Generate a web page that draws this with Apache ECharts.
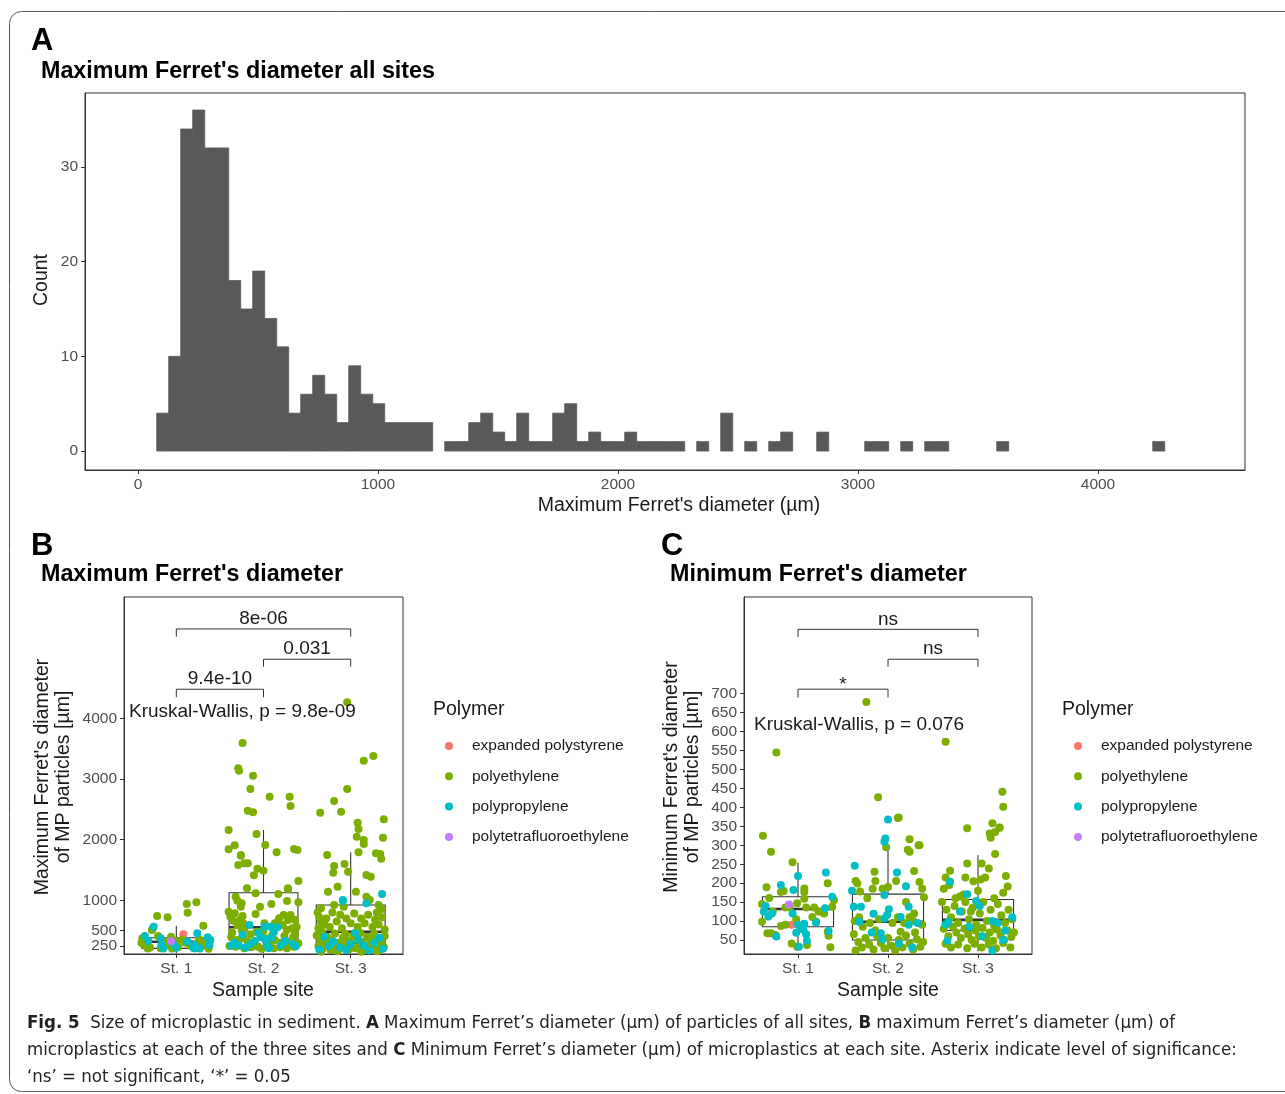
<!DOCTYPE html>
<html><head><meta charset="utf-8">
<script src="https://cdn.jsdelivr.net/npm/echarts@6/dist/echarts.min.js"></script>
<style>html,body{margin:0;padding:0;background:#fff}#c{width:1285px;height:1094px}</style>
</head><body><div id="c"></div>
<script>
const FONT = '"Liberation Sans", Arial, Helvetica, sans-serif';
const CAPFONT = '"Liberation Sans Narrow", "DejaVu Sans Condensed", "Liberation Sans", sans-serif';

// ---------- Panel A: histogram ----------
const histBinStart = 78;
const histBinWidth = 50;
const histCounts = [4,10,34,36,32,32,18,15,19,14,11,4,6,8,6,3,9,6,5,3,3,3,3,0,1,1,3,4,2,1,4,1,1,4,5,1,2,1,1,2,1,1,1,1,0,1,0,4,0,1,0,1,2,0,0,2,0,0,0,1,1,0,1,0,1,1,0,0,0,0,1,0,0,0,0,0,0,0,0,0,0,0,0,1];
const histXTicks = [0,1000,2000,3000,4000];
const histYTicks = [0,10,20,30];

// ---------- Panels B & C ----------
const sites = ['St. 1','St. 2','St. 3'];
const siteTicks = [1,2,3];
const polymers = ['expanded polystyrene','polyethylene','polypropylene','polytetrafluoroethylene'];
const polymerColors = ['#F8766D','#7CAE00','#00BFC4','#C77CFF'];

// box stats: [site, lower whisker, q1, median, q3, upper whisker]
const maxBox = [[1,130,207,317,383,580],[2,130,345,554,1125,2158],[3,130,290,482,922,1790]];
const minBox = [[1,25,85,132,164,254],[2,18,50,98,171,296],[3,20,75,103,157,274]];
const maxYTicks = [500,1000,2000,3000,4000];
const maxYTicksLow = [250];
const minYTicks = [50,100,150,200,250,300,350,400,450,500,550,600,650,700];

// brackets: [from site, to site, bar value, tip value]
const maxBrackets = [[1,3,5473,5346],[2,3,4974,4851],[1,2,4479,4347]];
const maxBracketLabels = ['8e-06','0.031','9.4e-10'];
const minBrackets = [[1,3,870,850],[2,3,791,771],[1,2,712,690]];
const minBracketLabels = ['ns','ns','*'];
const maxKW = [0.457, 4105]; const maxKWLabel = 'Kruskal-Wallis, p = 9.8e-09';
const minKW = [0.511, 617];  const minKWLabel = 'Kruskal-Wallis, p = 0.076';

// points: [site, jitter, value]
const maxEPS = [[1,0.08,438]];
const maxPTFE = [[1,-0.06,328]];
const maxPE = [
[1,-0.22,740],[1,-0.10,719],[1,0.12,938],[1,0.23,966],[1,0.13,795],[1,0.31,580],[1,-0.28,510],[1,-0.27,537],[1,-0.39,373],[1,-0.37,262],[1,-0.21,411],[1,-0.06,399],[1,-0.10,262],[1,0.02,230],[1,0.10,300],[1,0.22,210],[1,0.28,270],[1,0.37,200],[1,-0.18,210],[1,-0.30,220],[1,0.0,330],[1,0.16,250],[1,0.33,330],[1,-0.40,300],[1,-0.14,330],[1,0.07,350],[1,0.26,360],[1,0.36,240],[1,-0.33,205],[1,-0.05,205],
[2,-0.24,3593],[2,-0.29,3176],[2,-0.28,3137],[2,-0.12,3054],[2,-0.15,2835],[2,0.07,2708],[2,0.30,2708],[2,0.31,2554],[2,-0.18,2477],[2,-0.12,2450],[2,-0.40,2158],[2,-0.08,2093],[2,0.02,1911],[2,-0.40,1840],[2,-0.33,1906],[2,-0.26,1735],[2,-0.29,1581],[2,-0.22,1609],[2,-0.18,1609],[2,-0.07,1521],[2,0.0,1488],[2,-0.11,1412],[2,0.35,1845],[2,0.39,1829],[2,0.40,1318],[2,-0.19,1197],[2,-0.09,1115],[2,0.28,1197],[2,0.17,1103],[2,0.40,966],[2,-0.32,1059],[2,-0.30,993],[2,0.09,938],[2,-0.40,811],[2,-0.33,785],[2,-0.26,894],[2,-0.09,773],[2,0.23,757],[2,0.31,757],[2,0.36,674],[2,0.01,620],[2,0.17,663],[2,-0.27,674],[2,-0.23,620],[2,0.33,537],[2,0.15,1791],[2,-0.26,1746],
[2,0.28,1181],[2,-0.25,950],[2,-0.04,894],[2,0.27,988],[2,-0.38,729],[2,-0.35,663],[2,-0.24,740],[2,0.18,702],[2,0.28,674],[2,0.13,620],[2,0.22,592],[2,-0.30,592],[2,-0.25,510],[2,-0.22,521],[2,-0.08,481],[2,0.0,498],[2,0.27,510],[2,0.36,444],[2,-0.37,399],[2,-0.30,345],[2,-0.23,373],[2,-0.18,317],[2,-0.12,290],[2,-0.03,399],[2,0.03,373],[2,0.07,300],[2,0.13,345],[2,0.20,290],[2,0.28,317],[2,0.34,389],[2,0.40,290],[2,-0.39,245],[2,-0.32,234],[2,-0.22,208],[2,-0.14,224],[2,-0.06,234],[2,-0.02,201],[2,0.05,245],[2,0.12,208],[2,0.19,224],[2,0.27,208],[2,0.35,234],[2,0.38,560],[2,-0.36,470],[2,0.10,430],[2,-0.15,440],[2,0.24,410],
[3,-0.04,4265],[3,0.15,3302],[3,0.26,3379],[3,-0.04,2835],[3,-0.19,2637],[3,-0.35,2444],[3,-0.11,2461],[3,0.08,2279],[3,0.09,2175],[3,0.38,2335],[3,0.07,2048],[3,0.15,1994],[3,0.15,1928],[3,0.37,2032],[3,-0.27,1746],[3,0.09,1791],[3,0.29,1775],[3,0.34,1763],[3,0.35,1685],[3,-0.19,1565],[3,-0.20,1455],[3,-0.07,1598],[3,-0.03,1471],[3,0.18,1417],[3,0.23,1389],[3,-0.15,1224],[3,0.06,1141],[3,-0.26,1141],[3,0.18,1059],[3,0.22,1004],[3,0.32,922],[3,0.35,851],[3,-0.34,867],[3,-0.19,922],[3,-0.08,894],
[3,-0.38,800],[3,-0.36,720],[3,-0.34,650],[3,-0.30,600],[3,-0.37,540],[3,-0.33,480],[3,-0.28,700],[3,-0.24,560],[3,-0.21,800],[3,-0.16,650],[3,-0.12,760],[3,-0.10,540],[3,-0.05,700],[3,0.0,620],[3,0.04,780],[3,0.08,560],[3,0.12,700],[3,0.16,620],[3,0.20,760],[3,0.25,560],[3,0.28,680],[3,0.32,600],[3,0.36,720],[3,0.39,520],[3,0.30,800],
[3,-0.39,420],[3,-0.35,360],[3,-0.31,300],[3,-0.27,400],[3,-0.22,340],[3,-0.18,450],[3,-0.14,300],[3,-0.09,380],[3,-0.06,440],[3,-0.02,330],[3,0.03,420],[3,0.07,360],[3,0.11,460],[3,0.14,310],[3,0.19,400],[3,0.23,350],[3,0.27,450],[3,0.31,380],[3,0.35,320],[3,0.39,410],
[3,-0.37,240],[3,-0.32,200],[3,-0.27,260],[3,-0.23,180],[3,-0.19,230],[3,-0.13,200],[3,-0.08,260],[3,-0.03,190],[3,0.01,240],[3,0.05,210],[3,0.10,260],[3,0.15,190],[3,0.20,240],[3,0.24,200],[3,0.29,250],[3,0.34,190],[3,0.38,230],[3,-0.15,160],[3,0.12,150],[3,0.30,160],[3,-0.34,150]
];
const maxPP = [
[1,-0.26,564],[1,-0.36,411],[1,-0.18,373],[1,-0.17,262],[1,-0.04,290],[1,0.13,317],[1,0.21,262],[1,0.24,455],[1,0.36,389],[1,0.39,345],[1,0.38,262],[1,-0.15,205],[1,0.0,215],[1,0.20,210],[1,0.27,205],[1,-0.32,330],
[2,-0.16,592],[2,0.01,564],[2,0.08,564],[2,0.16,554],[2,-0.37,254],[2,-0.28,254],[2,-0.15,280],[2,-0.10,330],[2,-0.03,400],[2,0.02,350],[2,0.09,380],[2,0.04,260],[2,0.06,210],[2,0.20,260],[2,0.34,280],[2,0.37,240],[2,-0.20,220],[2,-0.33,300],[2,0.25,330],[2,-0.06,460],[2,0.12,480],[2,-0.24,430],
[3,0.36,1103],[3,-0.09,1004],[3,0.18,950],[3,-0.09,988],[3,-0.30,400],[3,-0.20,320],[3,-0.12,220],[3,0.0,280],[3,0.09,350],[3,0.15,250],[3,0.27,300],[3,0.37,200],[3,-0.36,190],[3,-0.05,180],[3,0.21,170],[3,0.33,380],[3,0.05,460],[3,-0.25,250]
];

const minEPS = [[1,-0.07,90]];
const minPTFE = [[1,-0.10,144]];
const minPE = [
[1,-0.39,325],[1,-0.30,283],[1,-0.06,255],[1,-0.35,189],[1,-0.19,177],[1,-0.16,179],[1,0.07,186],[1,0.07,177],[1,0.33,200],[1,-0.40,145],[1,-0.32,161],[1,-0.28,125],[1,-0.14,136],[1,-0.09,136],[1,-0.01,147],[1,0.07,159],[1,0.09,136],[1,0.18,136],[1,0.23,125],[1,0.29,120],[1,0.38,138],[1,-0.40,98],[1,-0.34,68],[1,-0.30,68],[1,-0.25,63],[1,-0.19,87],[1,-0.14,90],[1,-0.02,105],[1,0.16,111],[1,0.20,98],[1,0.33,72],[1,0.34,61],[1,0.36,31],[1,-0.24,545],[1,-0.01,32],[1,0.10,37],[1,0.40,155],[1,-0.07,41],
[2,-0.11,427],[2,-0.24,678],[2,0.12,373],[2,0.11,372],[2,-0.02,295],[2,0.24,316],[2,0.35,300],[2,0.22,288],[2,0.24,283],[2,0.34,300],[2,-0.15,230],[2,0.29,232],[2,-0.36,206],[2,-0.34,199],[2,-0.14,206],[2,0.09,206],[2,0.35,203],[2,0.38,185],[2,-0.06,185],[2,0.0,190],[2,-0.31,178],[2,-0.23,160],[2,-0.17,185],[2,0.40,163],[2,0.20,150],[2,0.29,120],[2,0.28,100],[2,-0.37,100],[2,-0.32,110],[2,-0.28,85],[2,-0.20,95],[2,-0.10,105],[2,0.05,95],[2,0.11,110],[2,0.18,95],[2,0.24,110],[2,0.38,90],
[2,-0.38,65],[2,-0.33,45],[2,-0.29,30],[2,-0.25,55],[2,-0.21,38],[2,-0.16,25],[2,-0.12,60],[2,-0.08,42],[2,-0.04,28],[2,0.0,55],[2,0.04,35],[2,0.08,22],[2,0.12,50],[2,0.16,30],[2,0.20,62],[2,0.24,40],[2,0.28,25],[2,0.32,52],[2,0.36,32],[2,0.39,45],[2,-0.36,22],[2,-0.14,75],[2,0.14,72],[2,0.30,70],
[3,-0.36,573],[3,0.27,441],[3,0.28,402],[3,0.16,358],[3,0.13,331],[3,0.24,346],[3,0.14,320],[3,0.19,335],[3,0.24,347],[3,0.19,277],[3,-0.12,345],[3,0.04,252],[3,-0.12,252],[3,-0.31,233],[3,0.12,239],[3,0.31,219],[3,0.33,191],[3,-0.36,215],[3,-0.32,195],[3,-0.38,185],[3,-0.14,215],[3,-0.05,205],[3,0.03,210],[3,0.08,215],[3,-0.25,160],[3,-0.20,165],
[3,-0.40,150],[3,-0.35,130],[3,-0.30,110],[3,-0.26,140],[3,-0.22,95],[3,-0.18,125],[3,-0.14,150],[3,-0.10,105],[3,-0.06,135],[3,-0.02,90],[3,0.02,120],[3,0.06,150],[3,0.10,100],[3,0.14,130],[3,0.18,88],[3,0.22,145],[3,0.26,115],[3,0.30,95],[3,0.34,130],[3,0.38,105],
[3,-0.38,80],[3,-0.33,60],[3,-0.28,85],[3,-0.24,70],[3,-0.19,55],[3,-0.15,80],[3,-0.11,65],[3,-0.07,50],[3,-0.03,75],[3,0.01,60],[3,0.05,82],[3,0.09,55],[3,0.13,70],[3,0.17,48],[3,0.21,78],[3,0.25,62],[3,0.29,50],[3,0.33,75],[3,0.37,58],[3,0.40,70],
[3,-0.36,40],[3,-0.30,30],[3,-0.22,38],[3,-0.12,28],[3,-0.04,40],[3,0.04,30],[3,0.12,38],[3,0.20,28],[3,0.28,42],[3,0.36,30],[3,-0.16,170],[3,0.28,175],[3,0.00,180],[3,-0.08,125],[3,0.18,160]
];
const minPP = [
[1,-0.19,195],[1,-0.05,182],[1,0.0,219],[1,0.31,228],[1,0.38,164],[1,-0.36,140],[1,-0.29,120],[1,-0.38,125],[1,-0.06,120],[1,0.0,90],[1,0.04,86],[1,0.07,93],[1,0.06,77],[1,0.09,65],[1,0.10,48],[1,0.20,96],[1,0.34,74],[1,-0.24,59],[1,-0.02,69],[1,0.01,32],[1,0.30,134],[1,-0.33,112],
[2,0.0,368],[2,-0.03,318],[2,-0.04,309],[2,-0.37,246],[2,0.10,228],[2,-0.40,180],[2,0.20,192],[2,-0.04,169],[2,-0.38,138],[2,-0.30,138],[2,0.01,131],[2,0.23,138],[2,-0.16,119],[2,-0.04,107],[2,-0.01,116],[2,0.14,111],[2,0.23,90],[2,-0.08,68],[2,-0.06,52],[2,0.12,41],[2,-0.18,70],[2,0.27,30],[2,-0.32,98],[2,0.33,95],
[3,-0.31,204],[3,-0.12,171],[3,-0.02,153],[3,-0.33,98],[3,-0.36,91],[3,-0.34,48],[3,0.16,100],[3,0.22,95],[3,0.38,110],[3,0.30,75],[3,0.16,22],[3,-0.10,85],[3,0.05,60],[3,0.28,50],[3,0.02,140],[3,-0.20,125]
];

// ---------- helpers ----------
const TXT = '#1a1a1a', TICKTXT = '#4d4d4d', LINE = '#333333';
function xAxisCfg(grid, min, max, ticks, fmt){
  return {gridIndex:grid, type:'value', min:min, max:max, splitLine:{show:false},
    axisLine:{show:true, onZero:false, lineStyle:{color:LINE, width:1}},
    axisTick:{show:true, customValues:ticks, length:4, lineStyle:{color:LINE}},
    axisLabel:{customValues:ticks, formatter:fmt, hideOverlap:false, showMinLabel:true, showMaxLabel:true, color:TICKTXT, fontSize:15.5, fontFamily:FONT, margin:7}};
}
function yAxisCfg(grid, min, max, ticks){
  return {gridIndex:grid, type:'value', position:'left', offset:0, min:min, max:max, splitLine:{show:false},
    axisLine:{show:true, onZero:false, lineStyle:{color:LINE, width:1}},
    axisTick:{show:true, customValues:ticks, length:4, lineStyle:{color:LINE}},
    axisLabel:{customValues:ticks, formatter:v => String(v), hideOverlap:false, showMinLabel:true, showMaxLabel:true, color:TICKTXT, fontSize:15.5, fontFamily:FONT, margin:7}};
}
const siteFmt = v => sites[Math.round(v)-1];

function boxSeries(ax, stats){
  return {type:'custom', xAxisIndex:ax, yAxisIndex:ax, z:2, silent:true, clip:true,
    data: stats,
    renderItem:function(params, api){
      const s=api.value(0), lo=api.value(1), q1=api.value(2), md=api.value(3), q3=api.value(4), hi=api.value(5);
      const hw=0.395;
      const tl=api.coord([s-hw,q3]), br=api.coord([s+hw,q1]);
      const ml=api.coord([s-hw,md]), mr=api.coord([s+hw,md]);
      const a=api.coord([s,q3]), b=api.coord([s,hi]), c=api.coord([s,q1]), d=api.coord([s,lo]);
      const st={stroke:LINE, lineWidth:1.1, fill:null};
      return {type:'group', children:[
        {type:'line', shape:{x1:a[0],y1:a[1],x2:b[0],y2:b[1]}, style:st},
        {type:'line', shape:{x1:c[0],y1:c[1],x2:d[0],y2:d[1]}, style:st},
        {type:'rect', shape:{x:tl[0],y:tl[1],width:br[0]-tl[0],height:br[1]-tl[1]}, style:{stroke:LINE, lineWidth:1.1, fill:'#ffffff'}},
        {type:'line', shape:{x1:ml[0],y1:ml[1],x2:mr[0],y2:mr[1]}, style:{stroke:LINE, lineWidth:2.6}}
      ]};
    }};
}
function bracketSeries(ax, rows, labels){
  return {type:'custom', xAxisIndex:ax, yAxisIndex:ax, z:5, silent:true, clip:false,
    data: rows,
    renderItem:function(params, api){
      const x1=api.value(0), x2=api.value(1), yb=api.value(2), yt=api.value(3);
      const p1=api.coord([x1,yb]), p2=api.coord([x2,yb]), t1=api.coord([x1,yt]), t2=api.coord([x2,yt]);
      const lab=labels[params.dataIndex];
      const off = lab==='*' ? 4 : 10;
      return {type:'group', children:[
        {type:'polyline', shape:{points:[t1,p1,p2,t2]}, style:{stroke:LINE, lineWidth:1, fill:null}},
        {type:'text', x:(p1[0]+p2[0])/2, y:p1[1]-off, style:{text:lab, fill:TXT, fontSize:19, fontFamily:FONT, align:'center', verticalAlign:'middle'}}
      ]};
    }};
}
function kwSeries(ax, pos, label){
  return {type:'custom', xAxisIndex:ax, yAxisIndex:ax, z:5, silent:true, clip:false,
    data:[pos],
    renderItem:function(params, api){
      const p=api.coord([api.value(0), api.value(1)]);
      return {type:'text', x:p[0], y:p[1], style:{text:label, fill:TXT, fontSize:19, fontFamily:FONT, align:'left', verticalAlign:'middle'}};
    }};
}
function pointSeries(ax, arr, idx){
  return {type:'scatter', name:polymers[idx], xAxisIndex:ax, yAxisIndex:ax, z:3,
    symbol:'circle', symbolSize:8, itemStyle:{color:polymerColors[idx], opacity:1},
    emphasis:{disabled:true}, silent:true,
    data: arr.map(p => [p[0]+p[1], p[2]])};
}

const histData = histCounts.map((c,i) => [histBinStart+i*histBinWidth, histBinStart+(i+1)*histBinWidth, c]).filter(r => r[2] > 0);

const legendCommon = {data:polymers, orient:'vertical', top:733, itemWidth:36, itemHeight:8, itemGap:14.3, icon:'circle', selectedMode:false,
     textStyle:{fontSize:15.5, color:TXT, fontFamily:FONT, lineHeight:16}};

const option = {
  animation:false,
  backgroundColor:'#ffffff',
  grid:[
    {left:85, top:93, width:1160, height:377, show:true, borderColor:LINE, borderWidth:1, backgroundColor:'transparent'},
    {left:124, top:597, width:279, height:357, show:true, borderColor:LINE, borderWidth:1, backgroundColor:'transparent'},
    {left:744, top:597, width:288, height:357, show:true, borderColor:LINE, borderWidth:1, backgroundColor:'transparent'}
  ],
  xAxis:[
    xAxisCfg(0, -220.8, 4612.5, histXTicks, v => String(v)),
    xAxisCfg(1, 0.4, 3.6, siteTicks, siteFmt),
    xAxisCfg(2, 0.4, 3.6, siteTicks, siteFmt)
  ],
  yAxis:[
    yAxisCfg(0, -2, 37.8, histYTicks),
    yAxisCfg(1, 114, 6000, maxYTicks),
    yAxisCfg(2, 13.05, 955.3, minYTicks),
    yAxisCfg(1, 114, 6000, maxYTicksLow)
  ],
  legend:[
    Object.assign({left:440}, legendCommon),
    Object.assign({left:1069}, legendCommon)
  ],
  series:[
    {type:'custom', xAxisIndex:0, yAxisIndex:0, silent:true, clip:true, data:histData,
     renderItem:function(params, api){
       const a=api.coord([api.value(0), api.value(2)]), b=api.coord([api.value(1), 0]);
       return {type:'rect', shape:{x:a[0], y:a[1], width:b[0]-a[0], height:b[1]-a[1]}, style:{fill:'#595959', stroke:'#595959', lineWidth:0.8}};
     }},
    boxSeries(1, maxBox),
    pointSeries(1, maxEPS, 0), pointSeries(1, maxPE, 1), pointSeries(1, maxPP, 2), pointSeries(1, maxPTFE, 3),
    bracketSeries(1, maxBrackets, maxBracketLabels),
    kwSeries(1, maxKW, maxKWLabel),
    boxSeries(2, minBox),
    pointSeries(2, minEPS, 0), pointSeries(2, minPE, 1), pointSeries(2, minPP, 2), pointSeries(2, minPTFE, 3),
    bracketSeries(2, minBrackets, minBracketLabels),
    kwSeries(2, minKW, minKWLabel)
  ],
  graphic:[
    {type:'rect', shape:{x:9.5, y:11.5, width:1400, height:1080, r:12}, style:{fill:null, stroke:'#5a5a5a', lineWidth:1}, silent:true, z:-10},
    {type:'text', x:31, y:41, style:{text:'A', fontSize:31, fontWeight:'bold', fontFamily:FONT, fill:'#000', align:'left', verticalAlign:'middle'}},
    {type:'text', x:41, y:72, style:{text:"Maximum Ferret's diameter all sites", fontSize:23.3, fontWeight:'bold', fontFamily:FONT, fill:'#000', align:'left', verticalAlign:'middle'}},
    {type:'text', x:679, y:506, style:{text:"Maximum Ferret's diameter (µm)", fontSize:19.5, fontFamily:FONT, fill:TXT, align:'center', verticalAlign:'middle'}},
    {type:'text', x:42, y:280, rotation:Math.PI/2, style:{text:'Count', fontSize:19.5, fontFamily:FONT, fill:TXT, align:'center', verticalAlign:'middle'}},

    {type:'text', x:31, y:546, style:{text:'B', fontSize:31, fontWeight:'bold', fontFamily:FONT, fill:'#000', align:'left', verticalAlign:'middle'}},
    {type:'text', x:41, y:575, style:{text:"Maximum Ferret's diameter", fontSize:23.3, fontWeight:'bold', fontFamily:FONT, fill:'#000', align:'left', verticalAlign:'middle'}},
    {type:'text', x:263, y:991, style:{text:'Sample site', fontSize:19.5, fontFamily:FONT, fill:TXT, align:'center', verticalAlign:'middle'}},
    {type:'text', x:43, y:777, rotation:Math.PI/2, style:{text:"Maximum Ferret's diameter", fontSize:19.5, fontFamily:FONT, fill:TXT, align:'center', verticalAlign:'middle'}},
    {type:'text', x:64, y:777, rotation:Math.PI/2, style:{text:'of MP particles [µm]', fontSize:19.5, fontFamily:FONT, fill:TXT, align:'center', verticalAlign:'middle'}},
    {type:'text', x:433, y:710, style:{text:'Polymer', fontSize:19.5, fontFamily:FONT, fill:TXT, align:'left', verticalAlign:'middle'}},

    {type:'text', x:661, y:546, style:{text:'C', fontSize:31, fontWeight:'bold', fontFamily:FONT, fill:'#000', align:'left', verticalAlign:'middle'}},
    {type:'text', x:670, y:575, style:{text:"Minimum Ferret's diameter", fontSize:23.3, fontWeight:'bold', fontFamily:FONT, fill:'#000', align:'left', verticalAlign:'middle'}},
    {type:'text', x:888, y:991, style:{text:'Sample site', fontSize:19.5, fontFamily:FONT, fill:TXT, align:'center', verticalAlign:'middle'}},
    {type:'text', x:672, y:777, rotation:Math.PI/2, style:{text:"Minimum Ferret's diameter", fontSize:19.5, fontFamily:FONT, fill:TXT, align:'center', verticalAlign:'middle'}},
    {type:'text', x:693, y:777, rotation:Math.PI/2, style:{text:'of MP particles [µm]', fontSize:19.5, fontFamily:FONT, fill:TXT, align:'center', verticalAlign:'middle'}},
    {type:'text', x:1062, y:710, style:{text:'Polymer', fontSize:19.5, fontFamily:FONT, fill:TXT, align:'left', verticalAlign:'middle'}},

    {type:'text', x:27, y:1023, style:{text:'{b|Fig. 5}  Size of microplastic in sediment. {b|A} Maximum Ferret’s diameter (µm) of particles of all sites, {b|B} maximum Ferret’s diameter (µm) of',
      fontSize:18.5, fontFamily:CAPFONT, fill:'#231f20', align:'left', verticalAlign:'middle',
      rich:{b:{fontSize:18.5, fontFamily:CAPFONT, fontWeight:'bold', fill:'#231f20'}}}},
    {type:'text', x:27, y:1050, style:{text:'microplastics at each of the three sites and {b|C} Minimum Ferret’s diameter (µm) of microplastics at each site. Asterix indicate level of significance:',
      fontSize:18.5, fontFamily:CAPFONT, fill:'#231f20', align:'left', verticalAlign:'middle',
      rich:{b:{fontSize:18.5, fontFamily:CAPFONT, fontWeight:'bold', fill:'#231f20'}}}},
    {type:'text', x:27, y:1077, style:{text:'‘ns’ = not significant, ‘*’ = 0.05',
      fontSize:18.5, fontFamily:CAPFONT, fill:'#231f20', align:'left', verticalAlign:'middle'}}
  ]
};
const chart = echarts.init(document.getElementById('c'), null, {renderer:'canvas', width:1285, height:1094});
chart.setOption(option);
</script>
</body></html>
